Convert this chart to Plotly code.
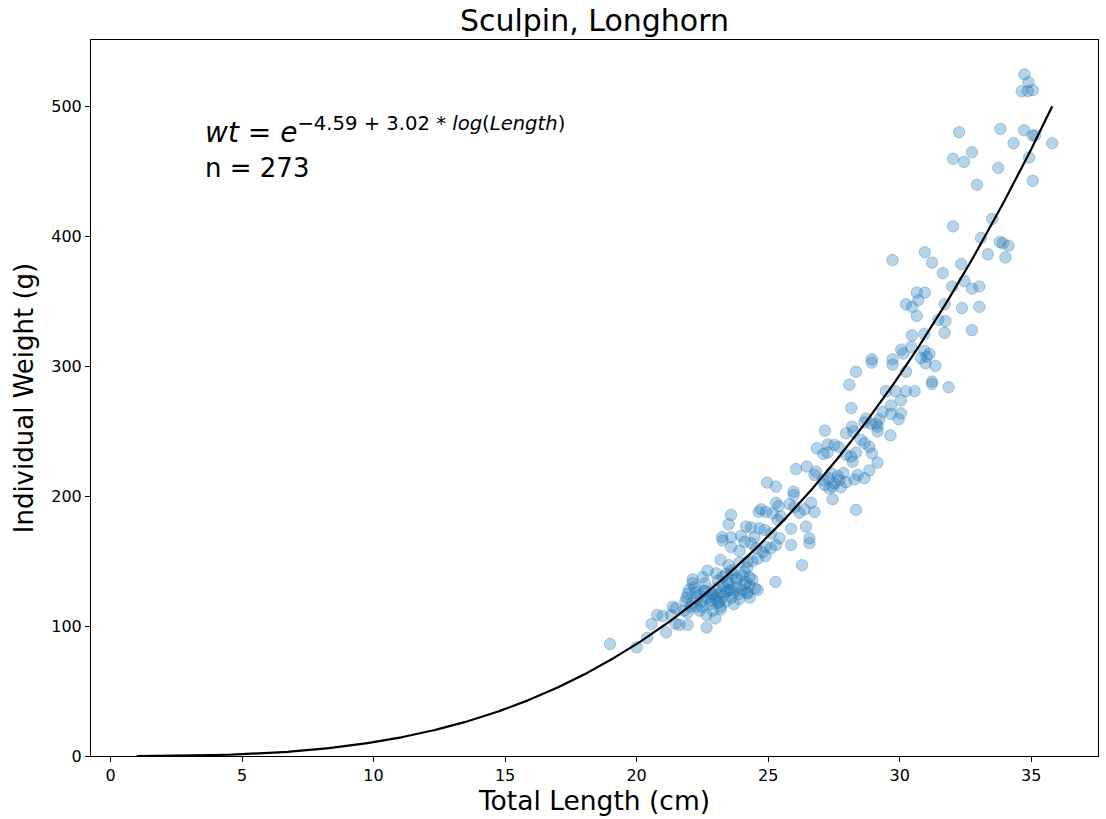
import numpy as np
import plotly.graph_objects as go

length_cm = [
    34.74, 34.9, 34.64, 34.87, 35.06, 32.26, 33.83, 34.73, 35.06, 35.15,
    34.33, 35.8, 32.75, 32.03, 32.45, 33.75, 34.92, 35.06, 32.94, 33.52,
    32.03, 33.09, 33.81, 33.92, 34.14, 33.35, 34.02, 30.96, 29.73,
    31.23, 32.34, 31.64, 32.0, 32.46, 32.75, 33.03, 30.65, 30.96, 30.71,
    30.24, 30.47, 31.71, 32.37, 33.03, 30.65, 31.47, 31.74, 32.75, 31.71,
    30.47, 30.94, 30.06, 30.14, 30.44, 30.94, 31.03, 31.13, 30.81, 30.98,
    28.94, 28.94, 29.73, 29.73, 31.36, 30.24, 28.34, 28.09, 31.23, 31.23,
    31.86, 29.48, 29.84, 30.24, 30.57, 30.05, 29.67, 28.16, 30.05, 29.96,
    29.35, 29.67, 29.23, 29.12, 28.72, 28.66, 28.91, 28.19, 29.16,
    27.16, 27.96, 28.24, 29.16, 29.65, 28.53, 28.66, 26.85, 27.27, 27.52,
    27.68, 27.1, 27.26, 27.96, 28.15, 28.34, 28.85, 28.95, 28.21, 29.16,
    26.06, 26.47, 26.82, 26.76, 28.85, 27.39, 27.65, 27.86, 28.41, 28.66,
    27.07, 27.3, 27.52, 27.71, 27.96, 28.28, 27.14, 27.33, 27.45, 27.77,
    24.96, 25.3, 25.97, 25.97, 27.45, 28.34, 25.3, 25.4, 25.81, 26.0,
    26.63, 26.38, 26.19, 26.76, 24.73, 24.64, 24.92, 23.59, 25.17, 25.49,
    25.36, 23.5, 24.16, 24.35, 24.67, 24.86, 25.87, 26.44, 25.11, 23.97,
    23.25, 23.59, 24.48, 25.43, 26.57,
    23.27, 23.59, 23.91, 24.35, 24.1, 24.54, 24.9, 24.9, 25.3, 25.87,
    26.57, 26.29, 25.28, 23.19, 23.5, 23.91, 24.22, 22.7, 23.02, 23.27,
    23.65, 24.1, 22.13, 22.51, 22.13, 23.44, 23.78, 24.16, 24.29, 21.94,
    22.26, 22.58, 22.83, 23.08, 23.4, 23.59, 23.91, 24.22,
    18.99, 20.0, 20.4, 20.57, 20.78, 20.99, 21.12, 21.37, 21.48, 21.31,
    21.48, 21.63, 21.94, 21.85, 21.94, 22.07, 22.28, 22.66, 22.99, 22.66,
    23.19, 23.15, 22.83,
    22.1, 22.3, 22.4, 22.5, 22.6, 22.7, 22.8, 22.9, 23.0, 23.0,
    23.1, 23.2, 23.3, 23.3, 23.4, 23.5, 23.5, 23.6, 23.7, 23.8,
    23.8, 23.9, 24.0, 24.1, 24.2, 24.3, 24.4, 24.5, 22.2, 22.4,
    22.6, 22.9, 23.1, 23.4, 23.7, 24.0, 24.3, 24.6, 21.9, 22.0,
    21.8, 22.5, 23.2, 23.6, 24.2, 24.6, 24.8, 25.1, 24.4,
]
weight_g = [
    525, 519, 512, 512, 513, 480.5, 483, 482, 478, 478,
    472, 472, 465, 460, 457.6, 453, 461, 443, 440, 413.7,
    408, 399, 396, 395, 393, 386.5, 384, 388, 382,
    380, 379, 372, 361.6, 366, 360, 361.6, 357, 357, 351,
    348, 346, 348, 345, 346, 339, 336, 335, 328, 326,
    324, 325, 313, 310, 315, 312, 307.6, 309.7, 306.4, 302.5,
    305.6, 303, 305.6, 301.5, 300.5, 296, 296, 286, 288.4, 286.6,
    284, 281, 281, 281, 281, 274, 270, 268, 264, 259.4,
    265, 263.5, 259.4, 256, 260, 256.8, 256, 253.7, 253.7,
    250.6, 248.6, 250, 250, 247, 243.5, 241, 237, 240, 239.6,
    238, 232.7, 233.7, 232, 230.6, 233.7, 238, 233, 226.7, 226,
    221, 223, 219, 216.5, 220, 217.8, 215.7, 218, 216.5, 214,
    212.6, 214, 210, 212.6, 211, 213, 208.8, 206, 207.5, 207,
    210.6, 207.5, 203.6, 201, 197.8, 189.5, 195, 192.6, 194, 191.6,
    195, 190, 187.4, 188, 190, 188, 188, 185.7, 187, 184.4,
    181.8, 178.5, 176.7, 176, 175.4, 174, 175, 176.7, 171.6, 169.5,
    168.5, 168.5, 168.5, 167.7, 167.7,
    166, 161, 158, 164, 165, 160, 161, 154, 162.6, 162.6,
    164, 147, 134, 151, 147, 149, 149.7, 142.8, 140.8, 138,
    140.8, 142, 136, 137.7, 133, 134, 135.6, 134, 137.7, 125,
    126, 127.4, 125, 124, 126.6, 127.9, 124.8, 125.3,
    86.3, 83.7, 91, 101.7, 108.6, 107.9, 95.3, 115, 113.8, 108.6,
    102, 101, 101, 119, 110.4, 115, 115, 108.6, 106, 99,
    115, 119, 120,
    118, 121, 124, 119, 127, 122, 117, 125, 129, 121,
    118, 126, 131, 123, 119, 128, 133, 122, 126, 130,
    137, 121, 128, 132, 126, 131, 136, 129, 130, 112,
    133, 112, 135, 140, 117, 139, 122, 128, 122, 128,
    112, 115, 113, 143, 145, 152, 157, 160, 150,
]

# Fitted length-weight model shown in the chart
fit_intercept = -4.59
fit_slope = 3.02
n_label = "n = 273"

curve_x = np.linspace(1, max(length_cm), 600)
curve_y = np.exp(fit_intercept + fit_slope * np.log(curve_x))

FONT = "DejaVu Sans"

fig = go.Figure()
fig.add_trace(go.Scatter(
    x=length_cm, y=weight_g, mode="markers",
    marker=dict(size=11.5, color="rgba(31,119,180,0.32)",
                line=dict(width=1, color="rgba(31,119,180,0.32)")),
    showlegend=False, hoverinfo="x+y",
))
fig.add_trace(go.Scatter(
    x=curve_x, y=curve_y, mode="lines",
    line=dict(color="black", width=2.2),
    showlegend=False,
))

eq_text = "<i>wt</i> = <i>e</i><sup>\u22124.59 + 3.02 * <i>log</i>(<i>Length</i>)</sup>"
fig.add_annotation(
    x=0.111, y=0.902, xref="paper", yref="paper",
    xanchor="left", yanchor="top", align="left",
    text=eq_text, showarrow=False,
    font=dict(family=FONT, size=28, color="black"),
)
fig.add_annotation(
    x=0.111, y=0.821, xref="paper", yref="paper",
    xanchor="left", yanchor="middle", align="left",
    text=n_label, showarrow=False,
    font=dict(family=FONT, size=26, color="black"),
)

axis_common = dict(
    showgrid=False, zeroline=False,
    showline=True, linecolor="black", linewidth=1, mirror=True,
    ticks="outside", ticklen=5, tickwidth=1, tickcolor="black",
    tickfont=dict(family=FONT, size=16, color="black"),
)

fig.update_layout(
    width=1106, height=819,
    margin=dict(l=91, r=8, t=40, b=63),
    paper_bgcolor="white", plot_bgcolor="white",
    title=dict(text="Sculpin, Longhorn", x=0.5375, xanchor="center",
               y=0.975, yanchor="middle",
               font=dict(family=FONT, size=30, color="black")),
    xaxis=dict(range=[-0.74, 37.54], tickvals=[0, 5, 10, 15, 20, 25, 30, 35],
               title=dict(text="Total Length (cm)", standoff=6,
                          font=dict(family=FONT, size=26.5, color="black")),
               **axis_common),
    yaxis=dict(range=[0, 551.5], tickvals=[0, 100, 200, 300, 400, 500],
               title=dict(text="Individual Weight (g)", standoff=10,
                          font=dict(family=FONT, size=26, color="black")),
               **axis_common),
)

fig.write_html("out.html",
               config={"displayModeBar": False},
               post_script="document.body.style.margin='0px';document.body.style.overflow='hidden';")
